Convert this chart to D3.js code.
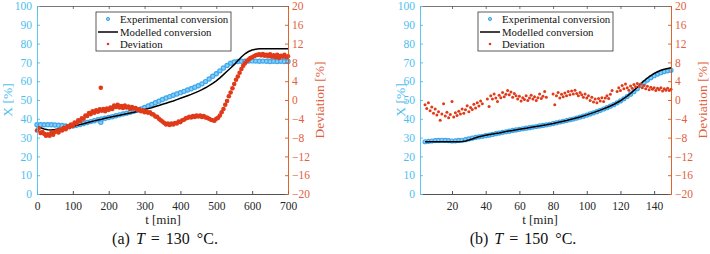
<!DOCTYPE html>
<html>
<head>
<meta charset="utf-8">
<script src="https://cdn.jsdelivr.net/npm/d3@7"></script>
<style>
  html, body { margin: 0; padding: 0; background: #fff; }
  svg { display: block; }
</style>
</head>
<body>
<svg id="chart" width="710" height="254"></svg>
<script>
// ---------------- DATA ----------------
const xTicksA = [0, 100, 200, 300, 400, 500, 600, 700];
const xTicksB = [20, 40, 60, 80, 100, 120, 140];
const yTicksL = [0, 10, 20, 30, 40, 50, 60, 70, 80, 90, 100];
const yTicksR = [-20, -16, -12, -8, -4, 0, 4, 8, 12, 16, 20];
const legendLabels = ["Experimental conversion", "Modelled conversion", "Deviation"];
const captionA = ["(a)", "T", "=", "130", "°C."];
const captionB = ["(b)", "T", "=", "150", "°C."];

// Panel (a) T = 130 °C : [t (min), X (%)]
const expA = [[0,36.8],[10,36.9],[20,36.8],[30,36.9],[40,36.8],[50,36.7],[60,36.6],[70,36.4],[80,36.2],[90,36.1],[100,36.2],[110,36.6],[120,37.0],[130,37.5],[140,38.0],[150,38.5],[160,39.0],[170,39.5],[178,38.2],[180,39.9],[190,40.3],[200,40.7],[210,41.1],[220,41.6],[230,42.1],[240,42.6],[250,43.0],[260,43.5],[270,44.0],[280,44.6],[290,45.3],[300,46.0],[310,46.8],[320,47.6],[330,48.5],[340,49.4],[350,50.3],[360,51.1],[370,51.8],[380,52.5],[390,53.2],[400,53.9],[410,54.6],[420,55.3],[430,56.0],[440,56.8],[450,57.6],[460,58.6],[470,59.8],[480,61.2],[490,62.6],[500,64.0],[510,65.5],[520,67.0],[530,68.4],[540,69.6],[550,70.2],[560,70.5],[570,70.6],[580,70.6],[590,70.7],[600,70.8],[610,70.7],[620,70.6],[630,70.7],[640,70.6],[650,70.5],[660,70.6],[670,70.5],[680,70.6],[690,70.5],[700,70.5]];
const modA = [[0,36.0],[10,35.2],[20,34.6],[30,34.2],[40,34.1],[50,34.3],[60,34.6],[70,34.9],[80,35.2],[90,35.5],[100,35.9],[110,36.4],[120,36.9],[130,37.4],[140,37.9],[150,38.4],[160,38.9],[170,39.4],[180,39.8],[190,40.3],[200,40.7],[210,41.1],[220,41.5],[230,41.9],[240,42.3],[250,42.7],[260,43.1],[270,43.5],[280,43.9],[290,44.4],[300,44.9],[310,45.4],[320,45.9],[330,46.5],[340,47.1],[350,47.7],[360,48.3],[370,48.9],[380,49.5],[390,50.2],[400,50.9],[410,51.6],[420,52.3],[430,53.0],[440,53.8],[450,54.6],[460,55.5],[470,56.5],[480,57.6],[490,58.8],[500,60.2],[510,61.8],[520,63.5],[530,65.3],[540,67.0],[550,68.8],[560,70.9],[570,72.9],[580,74.6],[590,75.8],[600,76.6],[610,77.0],[620,77.2],[630,77.3],[640,77.3],[650,77.3],[660,77.3],[670,77.3],[680,77.3],[690,77.3],[700,77.3]];
const devA = [[0,-6.5],[5,-6.0],[10,-7.0],[15,-6.8],[20,-7.2],[25,-7.6],[30,-7.3],[35,-7.6],[40,-7.0],[45,-7.4],[50,-6.8],[55,-6.6],[60,-6.9],[65,-6.3],[70,-6.5],[75,-5.9],[80,-6.2],[85,-5.6],[90,-5.8],[95,-5.2],[100,-5.5],[105,-4.8],[110,-5.0],[115,-4.3],[120,-4.5],[125,-3.9],[130,-4.0],[135,-3.3],[140,-3.4],[145,-2.8],[150,-3.0],[155,-2.4],[160,-2.7],[165,-2.2],[170,-2.5],[175,-2.0],[178,2.6],[180,-2.3],[185,-1.9],[190,-2.4],[195,-1.8],[200,-2.1],[205,-1.6],[210,-1.9],[215,-1.2],[220,-1.5],[225,-1.0],[230,-1.6],[235,-1.3],[240,-1.7],[245,-1.2],[250,-1.6],[255,-1.4],[260,-1.9],[265,-1.5],[270,-1.8],[275,-1.7],[280,-2.1],[285,-2.0],[290,-2.4],[295,-2.2],[300,-2.6],[305,-2.4],[310,-2.7],[315,-2.6],[320,-3.0],[325,-3.1],[330,-3.5],[335,-3.6],[340,-4.0],[345,-4.3],[350,-4.6],[355,-4.9],[360,-5.2],[365,-5.0],[370,-5.3],[375,-5.0],[380,-5.2],[385,-4.9],[390,-5.0],[395,-4.6],[400,-4.7],[405,-4.3],[410,-4.2],[415,-3.9],[420,-3.8],[425,-3.6],[430,-3.7],[435,-3.4],[440,-3.6],[445,-3.3],[450,-3.5],[455,-3.3],[460,-3.6],[465,-3.4],[470,-3.7],[475,-3.8],[480,-4.0],[485,-4.2],[490,-4.3],[495,-4.4],[500,-4.0],[505,-3.8],[510,-3.3],[515,-2.6],[520,-1.9],[525,-1.0],[530,-0.2],[535,0.8],[540,1.6],[545,2.5],[550,3.4],[555,4.3],[560,5.0],[565,5.8],[570,6.6],[575,7.3],[580,7.8],[585,8.3],[590,8.6],[595,8.9],[600,9.1],[605,9.3],[610,9.5],[615,9.6],[620,9.7],[625,9.5],[630,9.8],[635,9.4],[640,9.6],[645,9.3],[650,9.7],[655,9.2],[660,9.5],[665,9.1],[670,9.6],[675,9.0],[680,9.4],[685,9.2],[690,9.6],[695,9.1],[700,9.3]];

// Panel (b) T = 150 °C
const expB = [[4,27.8],[6,28.0],[8,28.2],[10,28.4],[12,28.5],[14,28.6],[16,28.5],[18,28.4],[20,28.2],[22,28.3],[24,28.5],[26,28.6],[28,28.9],[30,29.3],[32,29.7],[34,30.1],[36,30.4],[38,30.7],[40,31.0],[42,31.3],[44,31.7],[46,32.1],[48,32.4],[50,32.8],[52,33.1],[54,33.4],[56,33.8],[58,34.1],[60,34.4],[62,34.7],[64,35.0],[66,35.3],[68,35.6],[70,35.9],[72,36.2],[74,36.5],[76,36.8],[78,37.1],[80,37.5],[82,37.9],[84,38.3],[86,38.7],[88,39.1],[90,39.5],[92,39.9],[94,40.4],[96,40.9],[98,41.4],[100,42.0],[102,42.6],[104,43.2],[106,43.8],[108,44.5],[110,45.2],[112,45.9],[114,46.7],[116,47.5],[118,48.5],[120,49.5],[122,50.6],[124,51.8],[126,53.1],[128,54.5],[130,56.0],[132,57.6],[134,59.2],[136,60.6],[138,61.9],[140,62.9],[142,63.8],[144,64.5],[146,65.1],[148,65.5],[150,65.8]];
const modB = [[4,27.8],[8,27.8],[12,27.8],[16,27.8],[20,27.8],[24,27.8],[26,27.9],[28,28.2],[30,28.7],[32,29.3],[34,29.9],[36,30.4],[38,30.8],[40,31.2],[44,31.9],[48,32.5],[52,33.2],[56,33.8],[60,34.4],[64,35.0],[68,35.6],[72,36.2],[76,36.8],[80,37.5],[84,38.3],[88,39.1],[92,40.0],[96,41.0],[100,42.1],[104,43.3],[108,44.6],[112,46.0],[116,47.6],[120,49.6],[122,50.8],[124,52.1],[126,53.5],[128,55.1],[130,56.8],[132,58.5],[134,60.2],[136,61.7],[138,63.0],[140,64.1],[142,65.0],[144,65.8],[146,66.4],[148,66.8],[150,67.1]];
const devB = [[4,-1.0],[5,-1.8],[6,-0.6],[7,-2.3],[8,-1.5],[9,-2.8],[10,-1.9],[11,-3.2],[12,-2.5],[13,-4.3],[14,-3.0],[15,-0.8],[16,-3.4],[17,-2.6],[18,-3.8],[19,-3.1],[20,-0.3],[21,-3.6],[22,-2.7],[23,-3.3],[24,-2.4],[25,-3.0],[26,-1.9],[27,-2.8],[28,-2.1],[29,-1.2],[30,-2.5],[31,-1.6],[32,-2.0],[33,-0.9],[34,-1.7],[35,-0.6],[36,-1.3],[37,-0.2],[38,-0.8],[41,0.2],[42,-1.4],[43,0.9],[44,0.2],[45,1.3],[46,0.4],[47,-0.3],[48,1.0],[49,0.5],[50,1.6],[51,0.7],[52,1.2],[53,2.0],[54,1.1],[55,1.7],[56,0.6],[57,1.4],[58,0.9],[59,0.2],[60,0.8],[61,-0.2],[62,0.5],[63,0.1],[64,0.9],[65,-0.1],[66,0.4],[67,1.0],[68,0.2],[69,0.7],[70,-0.1],[71,0.5],[72,1.3],[73,0.3],[74,0.8],[75,1.8],[76,0.6],[80,1.3],[81,-1.0],[82,0.9],[83,1.6],[84,0.4],[85,1.2],[86,0.7],[87,1.5],[88,0.9],[89,1.8],[90,1.1],[91,1.9],[92,1.3],[93,2.1],[94,1.4],[95,0.9],[96,1.6],[97,1.1],[98,0.6],[99,1.3],[100,0.4],[101,0.9],[102,-0.1],[103,0.6],[104,-0.4],[105,0.2],[106,-0.6],[107,0.3],[108,-0.2],[109,0.5],[110,-0.3],[111,0.4],[112,0.9],[113,0.3],[114,1.2],[115,2.0],[118,1.8],[119,2.6],[120,2.0],[121,3.1],[122,2.4],[123,3.4],[124,2.6],[125,2.1],[126,3.0],[127,2.5],[128,3.3],[129,2.8],[130,3.5],[131,2.9],[132,3.4],[133,2.6],[134,3.1],[135,2.4],[136,2.9],[137,2.2],[138,2.7],[139,2.3],[140,2.6],[141,2.0],[142,2.5],[143,2.2],[144,2.6],[145,1.9],[146,2.4],[147,2.1],[148,2.5],[149,2.0],[150,2.3]];

// ---------------- STYLE ----------------
const BLUE = "#4DBEEE";
const BLUE_MK = "#3BA7EE";
const BLUE_FILL = "#8CCDF4";
const RED = "#D95319";
const RED_MK = "#E03A18";
const RED_TXT = "#E2603E";
const DARK = "#262626";
const SERIF = "\"Liberation Serif\", \"Times New Roman\", serif";

const svg = d3.select("#chart");
svg.append("rect").attr("width", 710).attr("height", 254).attr("fill", "#fff");

function serif(sel, size) {
  return sel.style("font-family", SERIF).style("font-size", size + "px");
}

function panel(cfg) {
  const top = 6, bottom = 194;
  const x = d3.scaleLinear().domain(cfg.xDomain).range([cfg.left, cfg.right]);
  const yL = d3.scaleLinear().domain([0, 100]).range([bottom, top]);
  const yR = d3.scaleLinear().domain([-20, 20]).range([bottom, top]);
  const g = svg.append("g");

  // data layers
  const gp = g.append("g");
  gp.selectAll("circle.exp").data(cfg.exp).join("circle")
    .attr("cx", d => x(d[0])).attr("cy", d => yL(d[1])).attr("r", cfg.expR)
    .attr("fill", BLUE_FILL).attr("stroke", BLUE_MK).attr("stroke-width", 1.2);
  gp.append("path").datum(cfg.mod)
    .attr("d", d3.line().x(d => x(d[0])).y(d => yL(d[1])))
    .attr("fill", "none").attr("stroke", "#000").attr("stroke-width", 1.5);
  gp.selectAll("circle.dev").data(cfg.dev).join("circle")
    .attr("cx", d => x(d[0])).attr("cy", d => yR(d[1])).attr("r", cfg.devR)
    .attr("fill", RED_MK);

  // top border with ticks
  const ta = g.append("g").attr("transform", `translate(0,${top})`)
    .call(d3.axisTop(x).tickValues(cfg.xTicks).tickSize(-3).tickFormat(""));
  ta.selectAll("path,line").attr("stroke", "#555").attr("stroke-width", 0.8);

  // bottom axis
  const ba = g.append("g").attr("transform", `translate(0,${bottom})`)
    .call(d3.axisBottom(x).tickValues(cfg.xTicks).tickSize(-3).tickPadding(8).tickSizeOuter(0));
  ba.selectAll("path,line").attr("stroke", DARK).attr("stroke-width", 0.8);
  serif(ba.selectAll("text"), 11.5).attr("fill", DARK);

  // left axis
  const la = g.append("g").attr("transform", `translate(${cfg.left},0)`)
    .call(d3.axisLeft(yL).tickValues(yTicksL).tickSize(-3).tickPadding(5).tickSizeOuter(0));
  la.selectAll("path,line").attr("stroke", BLUE).attr("stroke-width", 0.9);
  serif(la.selectAll("text"), 11.5).attr("fill", BLUE);

  // right axis
  const ra = g.append("g").attr("transform", `translate(${cfg.right},0)`)
    .call(d3.axisRight(yR).tickValues(yTicksR).tickSize(-3).tickPadding(4).tickSizeOuter(0));
  ra.selectAll("path,line").attr("stroke", RED).attr("stroke-width", 0.9);
  serif(ra.selectAll("text"), 11.5).attr("fill", RED_TXT);

  // axis labels
  serif(g.append("text"), 13.5).attr("transform", `translate(${cfg.yLabelX},100) rotate(-90)`)
    .attr("text-anchor", "middle").attr("dominant-baseline", "central")
    .attr("fill", BLUE).text("X [%]");
  serif(g.append("text"), 13.5).attr("transform", `translate(${cfg.rLabelX},100) rotate(-90)`)
    .attr("text-anchor", "middle").attr("dominant-baseline", "central")
    .attr("fill", RED_TXT).text("Deviation [%]");
  serif(g.append("text"), 13).attr("x", cfg.xLabelX).attr("y", 224)
    .attr("text-anchor", "middle").attr("fill", DARK).text("t [min]");

  // caption: (x) T = nnn °C.
  const cap = serif(g.append("text"), 16).attr("x", cfg.capX).attr("y", 244)
    .attr("text-anchor", "middle").attr("fill", "#111");
  const gaps = [0, 6, 6, 6, 7];
  cfg.caption.forEach((s, i) => {
    const ts = cap.append("tspan").attr("dx", gaps[i]).text(s);
    if (i === 1) ts.style("font-style", "italic");
  });

  // legend
  const lg = g.append("g").attr("transform", `translate(${cfg.legX},12)`);
  lg.append("rect").attr("width", 135).attr("height", 39)
    .attr("fill", "#fff").attr("stroke", "#333").attr("stroke-width", 0.8);
  const rows = [7, 20, 32];
  lg.append("circle").attr("cx", 12).attr("cy", rows[0]).attr("r", 1.6)
    .attr("fill", BLUE_FILL).attr("stroke", BLUE_MK).attr("stroke-width", 1);
  lg.append("line").attr("x1", 2).attr("x2", 22).attr("y1", rows[1]).attr("y2", rows[1])
    .attr("stroke", "#000").attr("stroke-width", 1.5);
  lg.append("circle").attr("cx", 12).attr("cy", rows[2]).attr("r", 1.3).attr("fill", RED_MK);
  serif(lg.selectAll("text.lt").data(legendLabels).join("text"), 10.8)
    .attr("x", 24).attr("y", (d, i) => rows[i]).attr("dominant-baseline", "central")
    .attr("fill", "#111").text(d => d);
}

panel({ xDomain: [0, 700], left: 37, right: 288, xTicks: xTicksA,
        exp: expA, mod: modA, dev: devA, yLabelX: 7, rLabelX: 319,
        xLabelX: 163, capX: 165, caption: captionA, legX: 96, expR: 2.1, devR: 2.3 });
panel({ xDomain: [1, 150], left: 420, right: 671, xTicks: xTicksB,
        exp: expB, mod: modB, dev: devB, yLabelX: 400, rLabelX: 702,
        xLabelX: 540, capX: 523, caption: captionB, legX: 478, expR: 2.0, devR: 1.5 });
</script>
</body>
</html>
